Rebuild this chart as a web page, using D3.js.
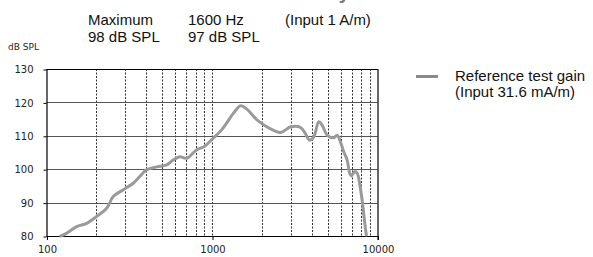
<!DOCTYPE html>
<html>
<head>
<meta charset="utf-8">
<script src="https://cdn.jsdelivr.net/npm/d3@7"></script>
<style>
  body { margin: 0; background: #fff; }
  svg { display: block; }
</style>
</head>
<body>
<svg id="chart" width="593" height="257"></svg>
<script>
// ---- data ----
const freqs = [122, 132, 152, 175, 200, 231, 253, 290, 334, 366, 402, 463, 532, 584, 641, 704, 802, 904, 1013, 1140, 1222, 1345, 1490, 1630, 1878, 2254, 2600, 2992, 3430, 3660, 3890, 4120, 4420, 4630, 4960, 5440, 5700, 5970, 6250, 6550, 6790, 6950, 7300, 7540, 7820, 8120, 8380, 8560];
const gains = [80, 80.8, 82.8, 83.8, 85.8, 88.3, 91.8, 93.8, 95.8, 97.8, 99.8, 100.7, 101.3, 102.8, 103.7, 103.3, 105.7, 106.9, 109.2, 111.7, 113.7, 116.7, 119.0, 117.9, 114.7, 112.1, 111.0, 112.7, 112.5, 110.7, 108.7, 109.7, 114.2, 113.2, 110.2, 109.4, 110.2, 108.2, 105.2, 102.8, 98.8, 98.0, 99.3, 98.8, 95.3, 89.8, 83.8, 80.3];
const yTicks = [80, 90, 100, 110, 120, 130];
const xMajorTicks = [100, 1000, 10000];
const xMinorTicks = [200, 300, 400, 500, 600, 700, 800, 900, 1000, 2000, 3000, 4000, 5000, 6000, 7000, 8000, 9000];
const headerCol1 = ["Maximum", "98 dB SPL"];
const headerCol2 = ["1600 Hz", "97 dB SPL"];
const headerCol3 = ["(Input 1 A/m)"];
const legendLines = ["Reference test gain", "(Input 31.6 mA/m)"];
const yLabel = "dB SPL";
const titleFragment = "Sensitivity";

// ---- layout ----
const svg = d3.select("#chart");
const L = 46.5, R = 377.5, T = 69, B = 236;
const x = d3.scaleLog().domain([100, 10000]).range([L, R]);
const y = d3.scaleLinear().domain([80, 130]).range([B, T]);

// cut-off grey title fragment at top (only the descender shows)
svg.append("text").attr("x", 350).attr("y", -1).attr("text-anchor", "end")
  .attr("font-family", "Liberation Sans, Arial, sans-serif").attr("font-size", 20)
  .attr("font-weight", "bold").attr("fill", "#777").text(titleFragment);

// vertical dotted gridlines
svg.append("g").selectAll("line").data(xMinorTicks).join("line")
  .attr("x1", d => Math.round(x(d)) + 0.5).attr("x2", d => Math.round(x(d)) + 0.5)
  .attr("y1", T).attr("y2", B)
  .attr("stroke", "#333").attr("stroke-width", 1).attr("stroke-dasharray", "2,1.5");

// horizontal gridlines
svg.append("g").selectAll("line").data(yTicks.filter(d => d > 80 && d < 130)).join("line")
  .attr("x1", L).attr("x2", R)
  .attr("y1", d => Math.round(y(d)) + 0.5).attr("y2", d => Math.round(y(d)) + 0.5)
  .attr("stroke", "#555").attr("stroke-width", 1);

// y axis
const yAxis = d3.axisLeft(y).tickValues(yTicks).tickSize(3).tickPadding(10);
const gy = svg.append("g").attr("transform", `translate(${L},0.5)`).call(yAxis);
gy.select(".domain").remove();
gy.selectAll(".tick line").attr("stroke", "#000");
gy.selectAll("text").attr("font-family", "DejaVu Sans, Verdana, sans-serif")
  .attr("font-size", 10).attr("fill", "#222");

// x axis
const xAxis = d3.axisBottom(x).tickValues(xMajorTicks).tickFormat(d3.format("d")).tickSize(4).tickPadding(6);
const gx = svg.append("g").attr("transform", `translate(0.5,${B})`).call(xAxis);
gx.select(".domain").remove();
gx.selectAll(".tick line").attr("stroke", "#000");
gx.selectAll("text").attr("font-family", "DejaVu Sans, Verdana, sans-serif")
  .attr("font-size", 10).attr("fill", "#222");

// frame
const fr = svg.append("g").attr("stroke", "#000").attr("stroke-width", 1.2);
fr.append("line").attr("x1", L).attr("x2", R).attr("y1", T + 0.5).attr("y2", T + 0.5);
fr.append("line").attr("x1", L).attr("x2", R + 0.5).attr("y1", B + 0.5).attr("y2", B + 0.5);
fr.append("line").attr("x1", L + 0.5).attr("x2", L + 0.5).attr("y1", T).attr("y2", B + 0.5);
fr.append("line").attr("x1", R + 0.5).attr("x2", R + 0.5).attr("y1", T).attr("y2", B + 4);

// curve
const pts = freqs.map((f, i) => [f, gains[i]]);
svg.append("path").datum(pts)
  .attr("d", d3.line().x(d => x(d[0])).y(d => y(d[1])).curve(d3.curveCatmullRom.alpha(0.5)))
  .attr("fill", "none").attr("stroke", "#9a9a9a").attr("stroke-width", 3)
  .attr("stroke-linejoin", "round").attr("stroke-linecap", "round");

// y label
svg.append("text").attr("x", 8).attr("y", 50)
  .attr("font-family", "DejaVu Sans, Verdana, sans-serif").attr("font-size", 9)
  .attr("fill", "#222").text(yLabel);

// header
const hdr = svg.append("g").attr("font-family", "Liberation Sans, Arial, sans-serif")
  .attr("font-size", 15).attr("fill", "#111");
[[headerCol1, 88], [headerCol2, 188], [headerCol3, 285]].forEach(([col, hx]) => {
  col.forEach((t, i) => hdr.append("text").attr("x", hx).attr("y", 25 + i * 17).text(t));
});

// legend
svg.append("line").attr("x1", 416).attr("x2", 438).attr("y1", 76.5).attr("y2", 76.5)
  .attr("stroke", "#8a8a8a").attr("stroke-width", 3);
const lg = svg.append("g").attr("font-family", "Liberation Sans, Arial, sans-serif")
  .attr("font-size", 15).attr("fill", "#111");
legendLines.forEach((t, i) => lg.append("text").attr("x", 455).attr("y", 81 + i * 16).text(t));
</script>
</body>
</html>
